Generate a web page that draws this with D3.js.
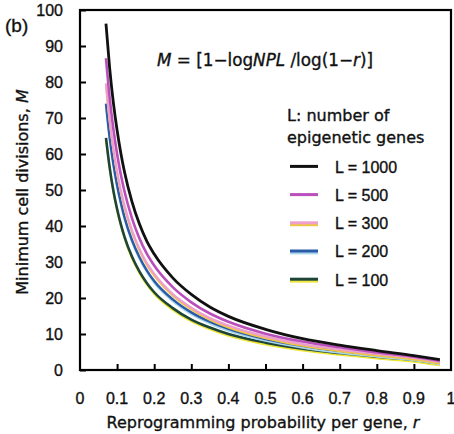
<!DOCTYPE html>
<html>
<head>
<meta charset="utf-8">
<script src="https://cdn.jsdelivr.net/npm/d3@7"></script>
<style>
  body { margin: 0; background: #fff; }
  svg { display: block; }
  text { fill: #111; stroke: #111; stroke-width: 0.35px; }
</style>
</head>
<body>
<svg id="chart" width="454" height="434"></svg>
<script>
"use strict";

var rValues = [0.07, 0.08, 0.09, 0.10, 0.11, 0.12, 0.14, 0.16, 0.18, 0.20,
               0.25, 0.30, 0.35, 0.40, 0.50, 0.60, 0.70, 0.80, 0.90, 0.97];
//Minimum cell divisions M for each number of epigenetic genes L
var m1000 = [96.2, 83.8, 74.2, 66.6, 60.3, 55.0, 46.8, 40.6, 35.8, 32.2,
             25.6, 21.0, 17.5, 14.9, 11.3, 8.7, 6.9, 5.4, 4.0, 2.9];
var m500  = [86.6, 75.5, 66.9, 60.0, 54.3, 49.6, 42.2, 36.6, 32.3, 29.0,
             23.0, 18.8, 15.7, 13.4, 10.1, 7.9, 6.3, 4.9, 3.7, 2.6];
var m300  = [79.6, 69.4, 61.5, 55.1, 49.9, 45.6, 38.8, 33.7, 29.7, 26.7,
             21.1, 17.3, 14.4, 12.3, 9.3, 7.2, 5.7, 4.5, 3.4, 2.3];
var m200  = [74.0, 64.5, 57.2, 51.3, 46.5, 42.4, 36.1, 31.4, 27.7, 24.7,
             19.6, 16.0, 13.4, 11.4, 8.6, 6.7, 5.3, 4.2, 3.2, 2.1];
var m100  = [64.5, 56.2, 49.8, 44.7, 40.5, 37.0, 31.5, 27.4, 24.2, 21.6,
             17.2, 14.0, 11.8, 10.0, 7.6, 5.9, 4.7, 3.7, 2.8, 1.8];
var seriesNames = ["L = 1000", "L = 500", "L = 300", "L = 200", "L = 100"];
var xTicks = [0, 0.1, 0.2, 0.3, 0.4, 0.5, 0.6, 0.7, 0.8, 0.9, 1];
var yTicks = [0, 10, 20, 30, 40, 50, 60, 70, 80, 90, 100];

//Colours of each curve: an under stroke (shifted down a bit) and the main stroke
var styles = [
  {under: null,      main: "#111111", w: 2.8},
  {under: null,      main: "#b94fbb", w: 2.6},
  {under: "#f0c640", main: "#eea0cc", w: 2.4},
  {under: "#a9d8ec", main: "#2a5aa8", w: 2.4},
  {under: "#eee634", main: "#1c4438", w: 2.6}
];

var svg = d3.select("#chart"),
    plotL = 80, plotR = 451, plotT = 10, plotB = 370;

var x = d3.scaleLinear().domain([0, 1]).range([plotL, plotR]);
var y = d3.scaleLinear().domain([0, 100]).range([plotB, plotT]);

var numFont = "'Liberation Sans', Arial, sans-serif";
var txtFont = "'DejaVu Sans', sans-serif";

//Curves (drawn from L=100 up so the black one sits on top)
var allSeries = [m1000, m500, m300, m200, m100];
var line = d3.line()
    .x(function(d) { return x(d[0]); })
    .y(function(d) { return y(d[1]); })
    .curve(d3.curveMonotoneX);

for (var s = allSeries.length - 1; s >= 0; s--) {
  var pts = d3.zip(rValues, allSeries[s]);
  if (styles[s].under) {
    svg.append("path")
      .datum(pts)
      .attr("d", line)
      .attr("transform", "translate(0,1.8)")
      .attr("fill", "none")
      .attr("stroke", styles[s].under)
      .attr("stroke-width", 2);
  }
  svg.append("path")
    .datum(pts)
    .attr("d", line)
    .attr("fill", "none")
    .attr("stroke", styles[s].main)
    .attr("stroke-width", styles[s].w);
}

//Frame
svg.append("rect")
  .attr("x", plotL).attr("y", plotT)
  .attr("width", plotR - plotL).attr("height", plotB - plotT)
  .attr("fill", "none").attr("stroke", "#000").attr("stroke-width", 2.2);

//Axes with inward ticks
var yAxis = svg.append("g")
    .attr("transform", "translate(" + plotL + ",0)")
    .call(d3.axisRight(y).tickValues(yTicks).tickSize(6).tickFormat(""));
yAxis.select(".domain").remove();
yAxis.selectAll("line").attr("stroke", "#000").attr("stroke-width", 2);

var xAxis = svg.append("g")
    .attr("transform", "translate(0," + plotB + ")")
    .call(d3.axisTop(x).tickValues(xTicks.slice(1, -1)).tickSize(6).tickFormat(""));
xAxis.select(".domain").remove();
xAxis.selectAll("line").attr("stroke", "#000").attr("stroke-width", 2);

//Tick labels
svg.append("g").selectAll("text")
  .data(yTicks).enter().append("text")
    .attr("x", 63)
    .attr("y", function(d) { return y(d); })
    .attr("dy", "0.36em")
    .attr("text-anchor", "end")
    .attr("font-family", numFont)
    .attr("font-size", "16px")
    .text(function(d) { return d; });

svg.append("g").selectAll("text")
  .data(xTicks).enter().append("text")
    .attr("x", function(d) { return x(d); })
    .attr("y", 398)
    .attr("dy", "0.36em")
    .attr("text-anchor", "middle")
    .attr("font-family", numFont)
    .attr("font-size", "16px")
    .text(function(d) { return d; });

//Axis titles
var xt = svg.append("text")
    .attr("x", 263).attr("y", 422)
    .attr("dy", "0.36em")
    .attr("text-anchor", "middle")
    .attr("font-family", txtFont)
    .attr("font-size", "16px")
    .text("Reprogramming probability per gene, ");
xt.append("tspan").attr("font-style", "italic").text("r");

var yt = svg.append("text")
    .attr("transform", "translate(22,192) rotate(-90)")
    .attr("dy", "0.36em")
    .attr("text-anchor", "middle")
    .attr("font-family", txtFont)
    .attr("font-size", "16px")
    .text("Minimum cell divisions, ");
yt.append("tspan").attr("font-style", "italic").text("M");

svg.append("text")
  .attr("x", 5).attr("y", 25)
  .attr("dy", "0.36em")
  .attr("font-family", numFont)
  .attr("font-size", "19px")
  .text("(b)");

//Formula
var f = svg.append("text")
    .attr("x", 157).attr("y", 60)
    .attr("dy", "0.36em")
    .attr("font-family", txtFont)
    .attr("font-size", "16.8px");
f.append("tspan").attr("font-style", "italic").text("M");
f.append("tspan").text(" = [1\u2212log");
f.append("tspan").attr("font-style", "italic").text("NPL");
f.append("tspan").text(" /log(1\u2212");
f.append("tspan").attr("font-style", "italic").text("r");
f.append("tspan").text(")]");

//Legend
svg.append("text")
  .attr("x", 287).attr("y", 115).attr("dy", "0.36em")
  .attr("font-family", txtFont).attr("font-size", "16px")
  .text("L: number of");
svg.append("text")
  .attr("x", 287).attr("y", 137).attr("dy", "0.36em")
  .attr("font-family", txtFont).attr("font-size", "16px")
  .text("epigenetic genes");

var leg = svg.append("g").selectAll("g")
  .data(seriesNames).enter().append("g")
    .attr("transform", function(d, i) { return "translate(290," + (167 + i * 28.2) + ")"; });
leg.each(function(d, i) {
  var g = d3.select(this);
  if (styles[i].under) {
    g.append("line").attr("x1", 0).attr("x2", 28).attr("y1", 1.6).attr("y2", 1.6)
      .attr("stroke", styles[i].under).attr("stroke-width", 2.4);
  }
  g.append("line").attr("x1", 0).attr("x2", 28).attr("y1", -0.6).attr("y2", -0.6)
    .attr("stroke", styles[i].main).attr("stroke-width", 3);
  g.append("text")
    .attr("x", 45).attr("dy", "0.36em")
    .attr("font-family", numFont).attr("font-size", "16px")
    .text(d);
});
</script>
</body>
</html>
